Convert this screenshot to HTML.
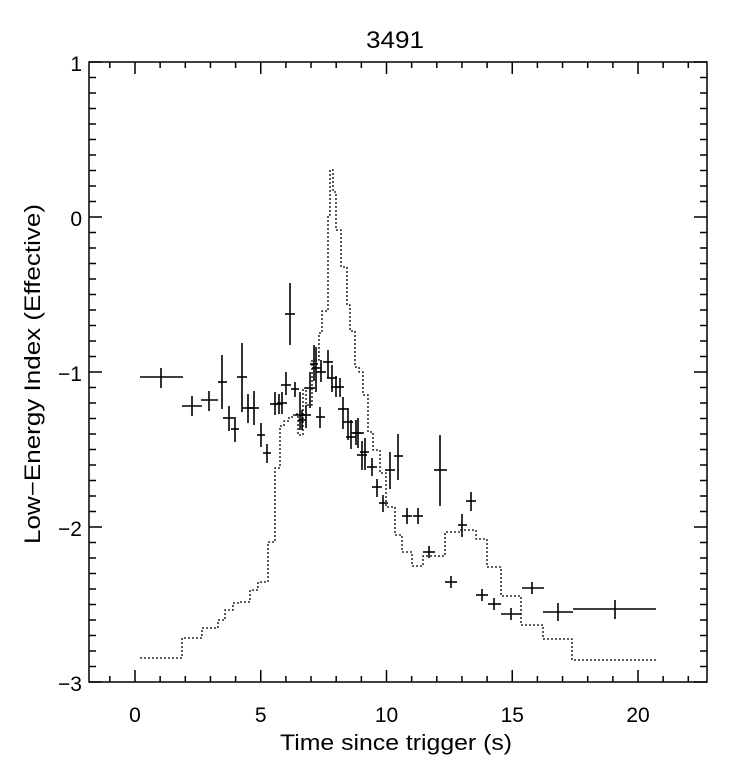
<!DOCTYPE html>
<html><head><meta charset="utf-8"><style>
body{margin:0;background:#fff;}
svg text{font-family:"Liberation Sans",sans-serif;fill:#000;}
</style></head><body>
<svg id="s" width="741" height="770" xmlns="http://www.w3.org/2000/svg">
<rect x="0" y="0" width="741" height="770" fill="#fff"/>
<rect x="89" y="62" width="618" height="620" fill="none" stroke="#000" stroke-width="1.5"/>
<text x="395" y="48" font-size="24" text-anchor="middle" textLength="58" lengthAdjust="spacingAndGlyphs">3491</text>
<text x="396" y="750" font-size="22" text-anchor="middle" textLength="232" lengthAdjust="spacingAndGlyphs">Time since trigger (s)</text>
<text transform="translate(40,374) rotate(-90)" font-size="22" text-anchor="middle" textLength="340" lengthAdjust="spacingAndGlyphs">Low−Energy Index (Effective)</text>
<g id="g"></g>
</svg>
<script>
var g=document.getElementById('g'),h='';
function X(t){return 135+t*25.15;}
function Y(v){return 217-v*155;}
function L(a,b,c,d,w){h+='<line x1="'+a+'" y1="'+b+'" x2="'+c+'" y2="'+d+'" stroke="#000" stroke-width="'+(w||1.5)+'"/>';}
for(var t=-1;t<=22;t++){var x=X(t),M=t%5==0,l=M?12:6;L(x,682,x,682-l);L(x,62,x,62+l);
 if(M&&t>=0&&t<=20)h+='<text x="'+x+'" y="722" font-size="21" text-anchor="middle">'+t+'</text>';}
for(var i=-30;i<=10;i++){var y=Y(i/10),M=i%10==0,l=M?13:7;L(89,y,89+l,y);L(707,y,707-l,y);
 if(M)h+='<text x="82" y="'+(y+9)+'" font-size="21" text-anchor="end">'+(i/10==0?'0':(i<0?'−'+(-i/10):i/10))+'</text>';}
var st=[[140,658],[182,638],[202,628],[218,620],[225,610],[233,603],[240,602],[250,590],[258,582],[268,542],[275,468],[280,426],[284,421],[289,417],[294,414],[298,435],[303,388],[306,405],[312,360],[319,333],[322,311],[328,215],[330,170],[333,192],[336,230],[341,267],[347,305],[350,331],[355,367],[359,372],[363,395],[368,432],[373,450],[380,473],[386,507],[395,535],[402,552],[412,566],[423,556],[445,532],[460,530],[476,539],[487,567],[501,596],[521,625],[543,639],[572,660],[656,660]];
var p='M'+st[0][0]+' '+st[0][1];
for(var k=1;k<st.length;k++){p+=' H'+st[k][0]+' V'+st[k][1];}
p+=' H656';
h+='<path d="'+p+'" fill="none" stroke="#000" stroke-width="1.3" stroke-dasharray="2,2"/>';
var d=[[161,377,140,183,368,388],[192,406,182,202,396,416],[209,400,201,218,391,411],[222,382,218,227,355,409],[229,418,223,234,406,431],[235,429,231,239,417,442],[242,377,237,247,343,412],[248,408,242,254,394,423],[254,408,248,259,391,425],[261,435,257,265,423,447],[267,453,263,271,444,463],[275,404,270,280,392,415],[279,404,275,283,394,414],[282,403,277,287,392,414],[286,385,281,291,372,395],[290,314,285,295,283,345],[295,389,291,299,382,397],[300,415,295,305,392,430],[302,420,298,306,410,430],[306,415,301,311,405,428],[310,388,305,315,372,408],[314,364,310,318,345,381],[316,368,312,321,347,392],[321,372,316,326,360,382],[320,417,316,325,407,428],[328,362,323,333,350,378],[332,378,327,337,365,392],[336,387,331,341,376,397],[340,387,335,344,378,397],[343,409,338,348,397,429],[348,422,343,353,408,440],[351,437,346,356,420,449],[356,433,351,361,420,445],[358,433,353,364,418,448],[362,455,357,367,441,470],[365,452,360,369,438,470],[372,467,367,377,458,476],[377,487,372,382,479,497],[383,503,379,388,495,512],[390,470,385,395,452,489],[398,456,394,403,434,480],[407,516,402,412,508,524],[418,516,413,423,508,524],[429,552,423,435,546,558],[440,470,434,447,435,506],[451,582,445,457,576,588],[462,525,458,467,514,537],[471,501,466,476,492,511],[482,595,476,488,589,601],[494,604,488,501,598,610],[511,614,501,521,608,620],[532,588,522,544,582,594],[558,612,543,573,603,621],[615,609,573,656,600,619]];
d.forEach(function(q){L(q[2],q[1],q[3],q[1],1.6);L(q[0],q[4],q[0],q[5],1.6);});
g.innerHTML=h;
</script>
</body></html>
